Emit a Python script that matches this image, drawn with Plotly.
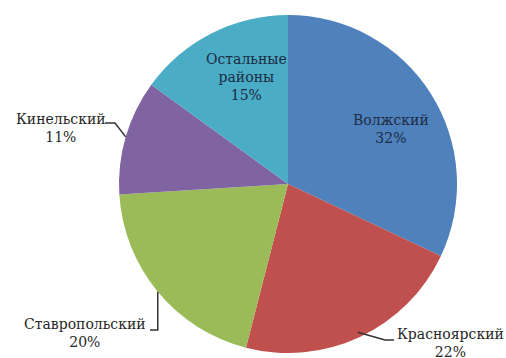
import math
import plotly.graph_objects as go

# Share of each district, percent
districts = ["Волжский", "Красноярский", "Ставропольский", "Кинельский", "Остальные районы"]
shares = [32, 22, 20, 11, 15]
label_text = ["Волжский", "Красноярский", "Ставропольский", "Кинельский", "Остальные<br>районы"]
colors = ["#4F81BD", "#C0504D", "#9BBB59", "#8064A2", "#4BACC6"]

W, H = 506, 358
ML, MR, MT, MB = 119, 49, 15, 5
PW, PH = W - ML - MR, H - MT - MB
CX, CY = ML + PW / 2, MT + PH / 2
RAD = min(PW, PH) / 2


def to_paper(px, py):
    return (px - ML) / PW, (H - MB - py) / PH


def edge_point(angle_deg, rf=1.0):
    a = math.radians(angle_deg)
    return CX + rf * RAD * math.sin(a), CY - rf * RAD * math.cos(a)


# mid-angle of every slice, clockwise from 12 o'clock
total = sum(shares)
mids = []
acc = 0.0
for s in shares:
    mids.append((acc + s / 2) / total * 360)
    acc += s

fig = go.Figure(go.Pie(
    labels=districts,
    values=shares,
    sort=False,
    direction="clockwise",
    rotation=0,
    marker=dict(colors=colors, line=dict(width=0)),
    textinfo="none",
    hoverinfo="label+percent",
    showlegend=False,
))

serif = "DejaVu Serif"
inside_col = "#1c2b44"
outside_col = "#262626"

# label placement (pixel centres) and leader geometry per slice
label_pos = {
    0: (391, 129),
    1: (450, 343),
    2: (85, 333),
    3: (61, 128),
    4: (246, 77),
}
leaders = {
    # index: (radius factor of anchor, elbow, end)
    1: (0.97, (385, 340), (394, 340)),
    2: (1.0, None, (150, 330)),
    3: (1.0, (115, 123), (105, 123)),
}

annotations = []
for i, (txt, s) in enumerate(zip(label_text, shares)):
    px, py = label_pos[i]
    x, y = to_paper(px, py)
    inside = i in (0, 4)
    annotations.append(dict(
        x=x, y=y, xref="paper", yref="paper",
        text=f"{txt}<br>{s}%",
        showarrow=False, xanchor="center", yanchor="middle", align="center",
        font=dict(family=serif, size=14, color=inside_col if inside else outside_col),
    ))

shapes = []
for i, (rf, elbow, end) in leaders.items():
    ax, ay = edge_point(mids[i], rf)
    if elbow is None:
        elbow = (ax, end[1])
    pts = [(ax, ay), elbow, end]
    pp = [to_paper(*p) for p in pts]
    path = "M " + " L ".join(f"{a:.4f},{b:.4f}" for a, b in pp)
    shapes.append(dict(type="path", xref="paper", yref="paper", path=path,
                       line=dict(color="#333333", width=1.5)))

fig.update_layout(
    width=W, height=H,
    margin=dict(l=ML, r=MR, t=MT, b=MB),
    paper_bgcolor="white",
    plot_bgcolor="white",
    font=dict(family=serif),
    annotations=annotations,
    shapes=shapes,
)

fig.write_html("out.html")
